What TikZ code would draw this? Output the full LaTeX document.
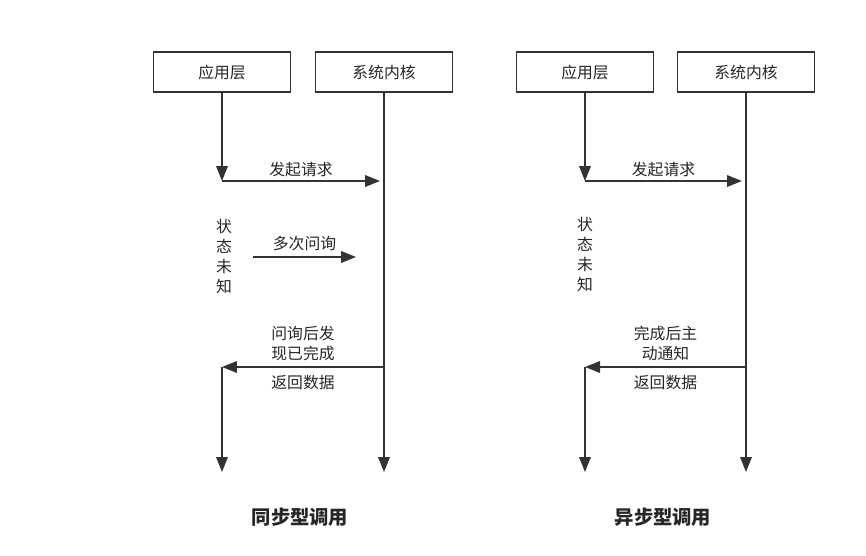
\documentclass[tikz,border=0pt]{standalone}
\usepackage{fontspec}
\newfontfamily\cjk{Noto Sans CJK SC}
\usetikzlibrary{arrows.meta, positioning}

\begin{document}
\begin{tikzpicture}[
      x=0.02cm, y=-0.02cm,
      font=\cjk\fontsize{9}{11.4}\selectfont,
      >={Triangle[length=3mm, width=2.3mm]},
      layer/.style={draw=black!80, line width=1.1pt, minimum width=2.74cm,
        minimum height=0.8cm, inner sep=0pt, text=black!85},
      flow/.style={->, draw=black!80, line width=1.1pt},
      lbl/.style={text=black!85, align=center, inner sep=2pt},
      ttl/.style={font=\cjk\bfseries\fontsize{11}{13}\selectfont, text=black!85}
    ]
      \useasboundingbox (0,0) rectangle (866,555);
      % synchronous call
      \node[layer] (app1) at (222, 72) {应用层};
      \node[layer] (ker1) at (384, 72) {系统内核};
      \coordinate (req1) at (222, 181);
      \coordinate (reqE1) at (380, 181);
      \coordinate (pollS1) at (253, 257);
      \coordinate (pollE1) at (356, 257);
      \coordinate (retS1) at (384, 367);
      \coordinate (ret1) at (222, 367);
      \coordinate (endA1) at (222, 472);
      \coordinate (endK1) at (384, 472);
      \draw[flow] (app1.south) -- (req1);
      \draw[flow] (req1) -- (reqE1) node[midway, above, lbl] {发起请求};
      \draw[flow] (ker1.south) -- (endK1);
      \node[lbl] (wait1) at (224, 256) {状\\态\\未\\知};
      \draw[flow] (pollS1) -- (pollE1) node[midway, above, lbl, yshift=1pt] {多次问询};
      \draw[flow] (retS1) -- (ret1)
        node[midway, above, lbl, yshift=1pt] {问询后发\\现已完成}
        node[midway, below, lbl, yshift=-2pt] {返回数据};
      \draw[flow] (ret1) -- (endA1);
      \node[ttl] (sync) at (300, 517) {同步型调用};
      % asynchronous call
      \node[layer] (app2) at (585, 72) {应用层};
      \node[layer] (ker2) at (746, 72) {系统内核};
      \coordinate (req2) at (585, 181);
      \coordinate (reqE2) at (742, 181);
      \coordinate (ntfS2) at (746, 367);
      \coordinate (ret2) at (585, 367);
      \coordinate (endA2) at (585, 472);
      \coordinate (endK2) at (746, 472);
      \draw[flow] (app2.south) -- (req2);
      \draw[flow] (req2) -- (reqE2) node[midway, above, lbl] {发起请求};
      \draw[flow] (ker2.south) -- (endK2);
      \node[lbl] (wait2) at (585, 254) {状\\态\\未\\知};
      \draw[flow] (ntfS2) -- (ret2)
        node[midway, above, lbl, yshift=1pt] {完成后主\\动通知}
        node[midway, below, lbl, yshift=-2pt] {返回数据};
      \draw[flow] (ret2) -- (endA2);
      \node[ttl] (async) at (663, 517) {异步型调用};
    \end{tikzpicture}
\end{document}
